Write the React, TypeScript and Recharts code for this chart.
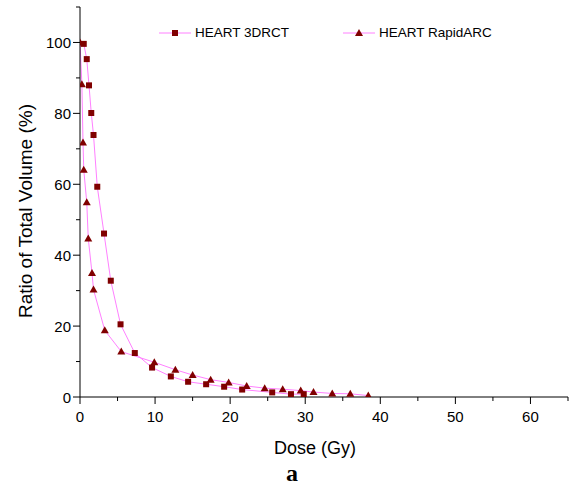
import { LineChart, Line, XAxis, YAxis } from 'recharts'

const DOSE_3DCRT = [0.5, 0.9, 1.2, 1.5, 1.8, 2.3, 3.2, 4.1, 5.4, 7.3, 9.6, 12.1, 14.4, 16.8, 19.2, 21.6, 25.6, 28.1, 29.8]
const VOL_3DCRT = [99.6, 95.3, 87.9, 80.1, 73.9, 59.3, 46.1, 32.8, 20.5, 12.4, 8.3, 5.8, 4.3, 3.6, 2.9, 2.1, 1.3, 0.8, 0.8]

const DOSE_RAPIDARC = [0, 0.25, 0.4, 0.5, 0.9, 1.1, 1.6, 1.8, 3.3, 5.5, 9.9, 12.7, 15.0, 17.4, 19.8, 22.2, 24.6, 27.0, 29.4, 31.1, 33.6, 36.0, 38.4]
const VOL_RAPIDARC = [100, 88.2, 71.8, 64.1, 54.9, 44.7, 35.0, 30.3, 18.8, 12.8, 9.8, 7.7, 6.2, 4.9, 4.1, 3.1, 2.5, 2.2, 1.8, 1.4, 1.0, 0.9, 0.4]

const X_TICKS = [0, 5, 10, 15, 20, 25, 30, 35, 40, 45, 50, 55, 60, 65]
const Y_TICKS = [0, 10, 20, 30, 40, 50, 60, 70, 80, 90, 100, 110]

const SERIES_NAMES = ['HEART 3DRCT', 'HEART RapidARC']

const LINEA = '#ff80ff'
const MARCA = '#800000'
const FUENTE = '"Liberation Sans", Arial, sans-serif'

const datos3d = DOSE_3DCRT.map((d, i) => ({ dose: d, vol: VOL_3DCRT[i] }))
const datosRa = DOSE_RAPIDARC.map((d, i) => ({ dose: d, vol: VOL_RAPIDARC[i] }))

function Cuadro({ cx, cy }: any) {
  if (cx == null || cy == null) return null
  return <rect x={cx - 3} y={cy - 3} width={6} height={6} fill={MARCA} />
}

function Triangulo({ cx, cy }: any) {
  if (cx == null || cy == null) return null
  return <polygon points={`${cx},${cy - 4} ${cx - 4},${cy + 3} ${cx + 4},${cy + 3}`} fill={MARCA} />
}

function TickX({ x, y, payload }: any) {
  const mayor = payload.value % 10 === 0 && payload.value <= 60
  return (
    <g>
      <line x1={x} x2={x} y1={y} y2={y + (mayor ? 7 : 4)} stroke="#000" />
      {mayor && (
        <text x={x} y={y + 25} textAnchor="middle" fontSize={15} fontFamily={FUENTE} fill="#000">
          {payload.value}
        </text>
      )}
    </g>
  )
}

function TickY({ x, y, payload }: any) {
  const mayor = payload.value % 20 === 0
  return (
    <g>
      <line x1={x} x2={x - (mayor ? 7 : 4)} y1={y} y2={y} stroke="#000" />
      {mayor && (
        <text x={x - 9} y={y + 5.5} textAnchor="end" fontSize={15} fontFamily={FUENTE} fill="#000">
          {payload.value}
        </text>
      )}
    </g>
  )
}

function Leyenda() {
  const item = (nombre: string, tri: boolean, left: number) => (
    <div key={nombre} style={{ position: 'absolute', left, top: 0, display: 'flex', alignItems: 'center' }}>
      <svg width={32} height={12}>
        <line x1={0} x2={32} y1={6} y2={6} stroke={LINEA} />
        {tri ? (
          <polygon points="16,2 12,9 20,9" fill={MARCA} />
        ) : (
          <rect x={13} y={3} width={6} height={6} fill={MARCA} />
        )}
      </svg>
      <span style={{ marginLeft: 4, fontSize: 13.5, fontFamily: FUENTE, color: '#000', whiteSpace: 'nowrap' }}>{nombre}</span>
    </div>
  )
  return (
    <div style={{ position: 'absolute', left: 0, top: 25, width: 572, height: 16 }}>
      {item(SERIES_NAMES[0], false, 159)}
      {item(SERIES_NAMES[1], true, 343)}
    </div>
  )
}

export default function App() {
  return (
    <div style={{ position: 'absolute', left: 0, top: 0, width: 572, height: 494, background: '#fff' }}>
      <LineChart width={572} height={494} margin={{ top: 7, right: 4, bottom: 67, left: 0 }}>
        <XAxis
          type="number"
          dataKey="dose"
          domain={[0, 65]}
          ticks={X_TICKS}
          interval={0}
          height={30}
          tickSize={0}
          tickMargin={0}
          tickLine={false}
          tick={<TickX />}
          stroke="#000"
          allowDataOverflow
        />
        <YAxis
          type="number"
          dataKey="vol"
          domain={[0, 110]}
          ticks={Y_TICKS}
          interval={0}
          width={80}
          tickSize={0}
          tickMargin={0}
          tickLine={false}
          tick={<TickY />}
          stroke="#000"
          allowDataOverflow
        />
        <Line
          data={datos3d}
          dataKey="vol"
          name={SERIES_NAMES[0]}
          type="linear"
          stroke={LINEA}
          strokeWidth={1}
          dot={<Cuadro />}
          activeDot={false}
          isAnimationActive={false}
        />
        <Line
          data={datosRa}
          dataKey="vol"
          name={SERIES_NAMES[1]}
          type="linear"
          stroke={LINEA}
          strokeWidth={1}
          dot={<Triangulo />}
          activeDot={false}
          isAnimationActive={false}
        />
      </LineChart>
      <Leyenda />
      <div
        style={{
          position: 'absolute',
          left: 26,
          top: 211,
          transform: 'translate(-50%, -50%) rotate(-90deg)',
          fontSize: 19,
          fontFamily: FUENTE,
          whiteSpace: 'nowrap',
          color: '#000',
        }}
      >
        Ratio of Total Volume (%)
      </div>
      <div
        style={{
          position: 'absolute',
          left: 315,
          top: 448,
          transform: 'translate(-50%, -50%)',
          fontSize: 18,
          fontFamily: FUENTE,
          whiteSpace: 'nowrap',
          color: '#000',
        }}
      >
        Dose (Gy)
      </div>
      <div
        style={{
          position: 'absolute',
          left: 292,
          top: 473,
          transform: 'translate(-50%, -50%)',
          fontSize: 24,
          fontWeight: 'bold',
          fontFamily: '"Liberation Serif", "Times New Roman", serif',
          color: '#000',
        }}
      >
        a
      </div>
    </div>
  )
}
